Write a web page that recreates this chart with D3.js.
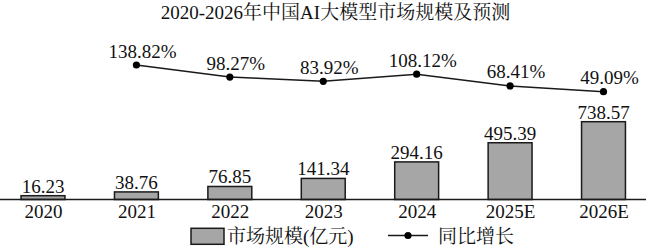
<!DOCTYPE html>
<html>
<head>
<meta charset="utf-8">
<script src="https://cdn.jsdelivr.net/npm/d3@7"></script>
<style>
  html, body { margin: 0; padding: 0; background: #fff; }
  svg { display: block; }
  text { font-family: "Liberation Serif", "Times New Roman", "Noto Serif CJK SC", "Noto Sans CJK SC", serif; fill: #111; }
</style>
</head>
<body>
<svg id="chart" width="649" height="249"></svg>
<script>
const title = "2020-2026年中国AI大模型市场规模及预测";
const categories = ["2020", "2021", "2022", "2023", "2024", "2025E", "2026E"];
const marketSize = [16.23, 38.76, 76.85, 141.34, 294.16, 495.39, 738.57];
const growthYears = ["2021", "2022", "2023", "2024", "2025E", "2026E"];
const growthRate = [138.82, 98.27, 83.92, 108.12, 68.41, 49.09];
const legendLabels = ["市场规模(亿元)", "同比增长"];

const svg = d3.select("#chart");
const barFill = "#a6a6a6";
const ink = "#1a1a1a";

const x = d3.scalePoint().domain(categories).range([43, 603.5]);
const barW = x.step() * 0.47;
const axisY = 199.5;
const yBar = d3.scalePow().exponent(0.79)
  .domain([0, d3.max(marketSize)]).range([axisY, 121.7]);
const yLine = d3.scaleLinear().domain([0, 160]).range([106.3, 58.7]);

// title
svg.append("text").attr("x", 335.5).attr("y", 18.5)
  .attr("text-anchor", "middle").attr("font-size", 19).text(title);

// bars
svg.append("g").selectAll("rect").data(marketSize).join("rect")
  .attr("x", (d, i) => x(categories[i]) - barW / 2)
  .attr("y", d => yBar(d))
  .attr("width", barW)
  .attr("height", d => axisY - yBar(d))
  .attr("fill", barFill).attr("stroke", ink).attr("stroke-width", 1.5);

svg.append("g").selectAll("text").data(marketSize).join("text")
  .attr("x", (d, i) => x(categories[i]))
  .attr("y", d => yBar(d) - 3)
  .attr("text-anchor", "middle").attr("font-size", 19)
  .text(d => d.toFixed(2));

// x axis
const axis = d3.axisBottom(x).tickSize(0).tickPadding(5);
const gAxis = svg.append("g").attr("transform", `translate(0,${axisY})`).call(axis);
gAxis.select(".domain").attr("d", "M0,0H646").attr("stroke", ink).attr("stroke-width", 1.5);
gAxis.selectAll("text").attr("font-size", 19).attr("fill", "#111")
  .attr("font-family", "Liberation Serif, serif").attr("dy", "0.72em");

// line
const line = d3.line().x((d, i) => x(growthYears[i])).y(d => yLine(d));
svg.append("path").datum(growthRate).attr("d", line)
  .attr("fill", "none").attr("stroke", ink).attr("stroke-width", 1.5);
svg.append("g").selectAll("circle").data(growthRate).join("circle")
  .attr("cx", (d, i) => x(growthYears[i])).attr("cy", d => yLine(d))
  .attr("r", 3.6).attr("fill", "#000");
svg.append("g").selectAll("text").data(growthRate).join("text")
  .attr("x", (d, i) => x(growthYears[i]) + 6)
  .attr("y", d => yLine(d) - 7.5)
  .attr("text-anchor", "middle").attr("font-size", 19)
  .text(d => d.toFixed(2) + "%");

// legend
const lg = svg.append("g");
lg.append("rect").attr("x", 191).attr("y", 228.3).attr("width", 33).attr("height", 16)
  .attr("fill", barFill).attr("stroke", ink).attr("stroke-width", 1.5);
lg.append("text").attr("x", 227).attr("y", 242.5).attr("font-size", 19).text(legendLabels[0]);
lg.append("line").attr("x1", 388).attr("x2", 428).attr("y1", 235.5).attr("y2", 235.5)
  .attr("stroke", ink).attr("stroke-width", 1.5);
lg.append("circle").attr("cx", 408).attr("cy", 235.5).attr("r", 3.6).attr("fill", "#000");
lg.append("text").attr("x", 438).attr("y", 242.5).attr("font-size", 19).text(legendLabels[1]);
</script>
</body>
</html>
